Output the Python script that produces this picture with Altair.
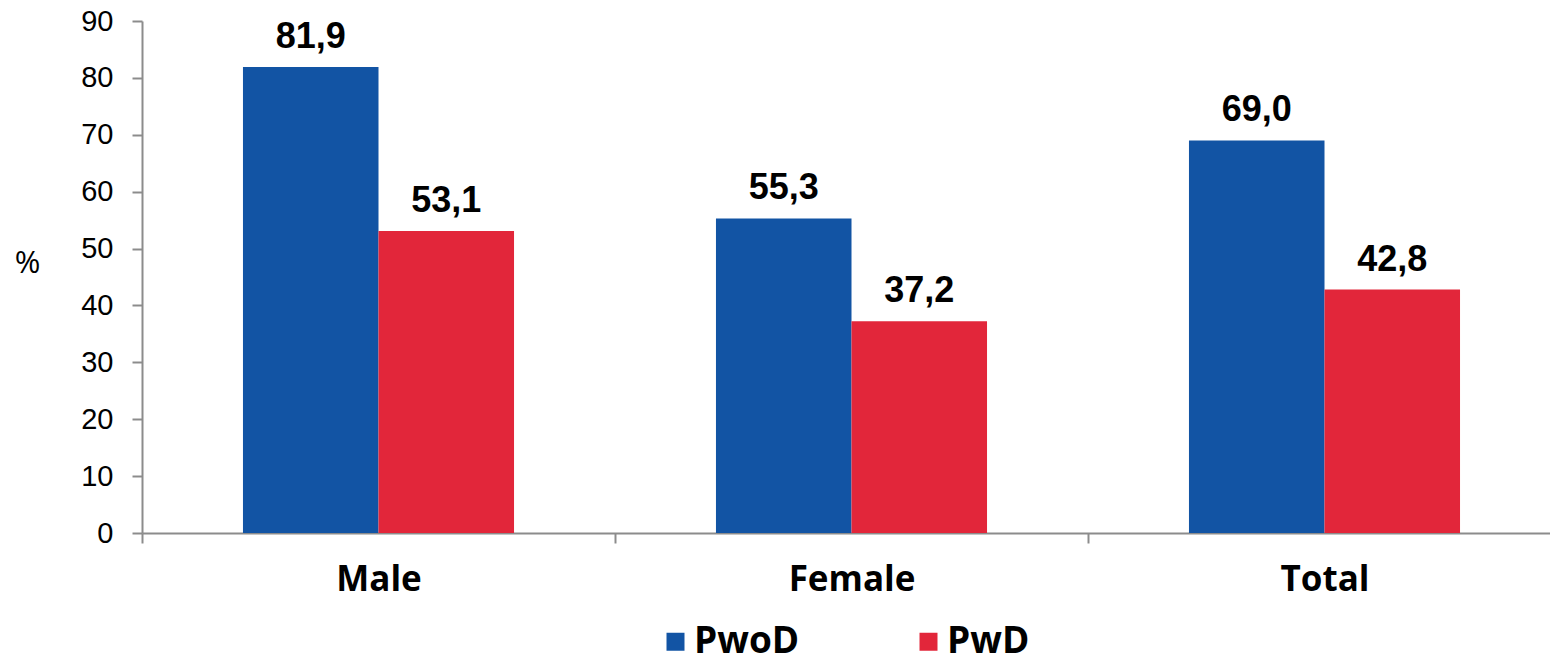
import altair as alt
import pandas as pd

categories = ["Male", "Female", "Total"]
series = ["PwoD", "PwD"]
pwod = [81.9, 55.3, 69.0]
pwd = [53.1, 37.2, 42.8]
colors = ["#1254A4", "#E2263A"]
y_ticks = [0, 10, 20, 30, 40, 50, 60, 70, 80, 90]

rows = []
for c, a, b in zip(categories, pwod, pwd):
    rows.append({"group": c, "series": series[0], "value": a})
    rows.append({"group": c, "series": series[1], "value": b})
df = pd.DataFrame(rows)

AX = "#8c8c8c"

x = alt.X(
    "group:N", sort=categories,
    scale=alt.Scale(paddingInner=0, paddingOuter=0),
    axis=alt.Axis(
        title=None, labelAngle=0, tickBand="extent",
        labelFont="Open Sans", labelFontWeight="bold", labelFontSize=35,
        labelColor="black", labelPadding=19, tickSize=10, tickWidth=2,
        tickColor=AX, domainColor=AX, domainWidth=2,
    ),
)
xoff = alt.XOffset("series:N", sort=series,
                   scale=alt.Scale(paddingInner=0, paddingOuter=0.745))
y = alt.Y(
    "value:Q", scale=alt.Scale(domain=[0, 90], nice=False),
    axis=alt.Axis(
        values=y_ticks, title="%", titleAngle=0, titleX=-115, titleY=242,
        titleAlign="center", titleBaseline="middle", titleFont="Open Sans",
        titleFontWeight="normal", titleFontSize=31, titleColor="black",
        grid=False, labelFont="Liberation Sans", labelFontSize=29,
        labelColor="black", labelPadding=19, tickSize=10, tickWidth=2,
        tickColor=AX, domainColor=AX, domainWidth=2,
    ),
)
color = alt.Color(
    "series:N", sort=series,
    scale=alt.Scale(domain=series, range=colors),
    legend=alt.Legend(
        title=None, orient="none", legendX=515, legendY=602,
        direction="horizontal", symbolType="square", symbolSize=324,
        symbolStrokeWidth=0, symbolOpacity=1, labelFont="Open Sans",
        labelFontWeight="bold", labelFontSize=37, labelColor="black",
        labelOffset=0, columnPadding=110, padding=0, labelLimit=400,
    ),
)

base = alt.Chart(df)
bars = base.mark_bar().encode(x=x, xOffset=xoff, y=y, color=color)
text = base.transform_calculate(
    label="replace(format(datum.value, '.1f'), '.', ',')"
).mark_text(
    baseline="alphabetic", dy=-19, font="Liberation Sans",
    fontWeight="bold", fontSize=36, color="black",
).encode(x=x, xOffset=xoff, y=y, text="label:N")

chart = (bars + text).properties(
    width=1419, height=512,
    autosize=alt.AutoSizeParams(type="none"),
    padding={"left": 134, "top": 13, "right": -11, "bottom": 125},
).configure_view(stroke=None)

chart.save("out.html", embed_options={"renderer": "svg", "actions": False})
